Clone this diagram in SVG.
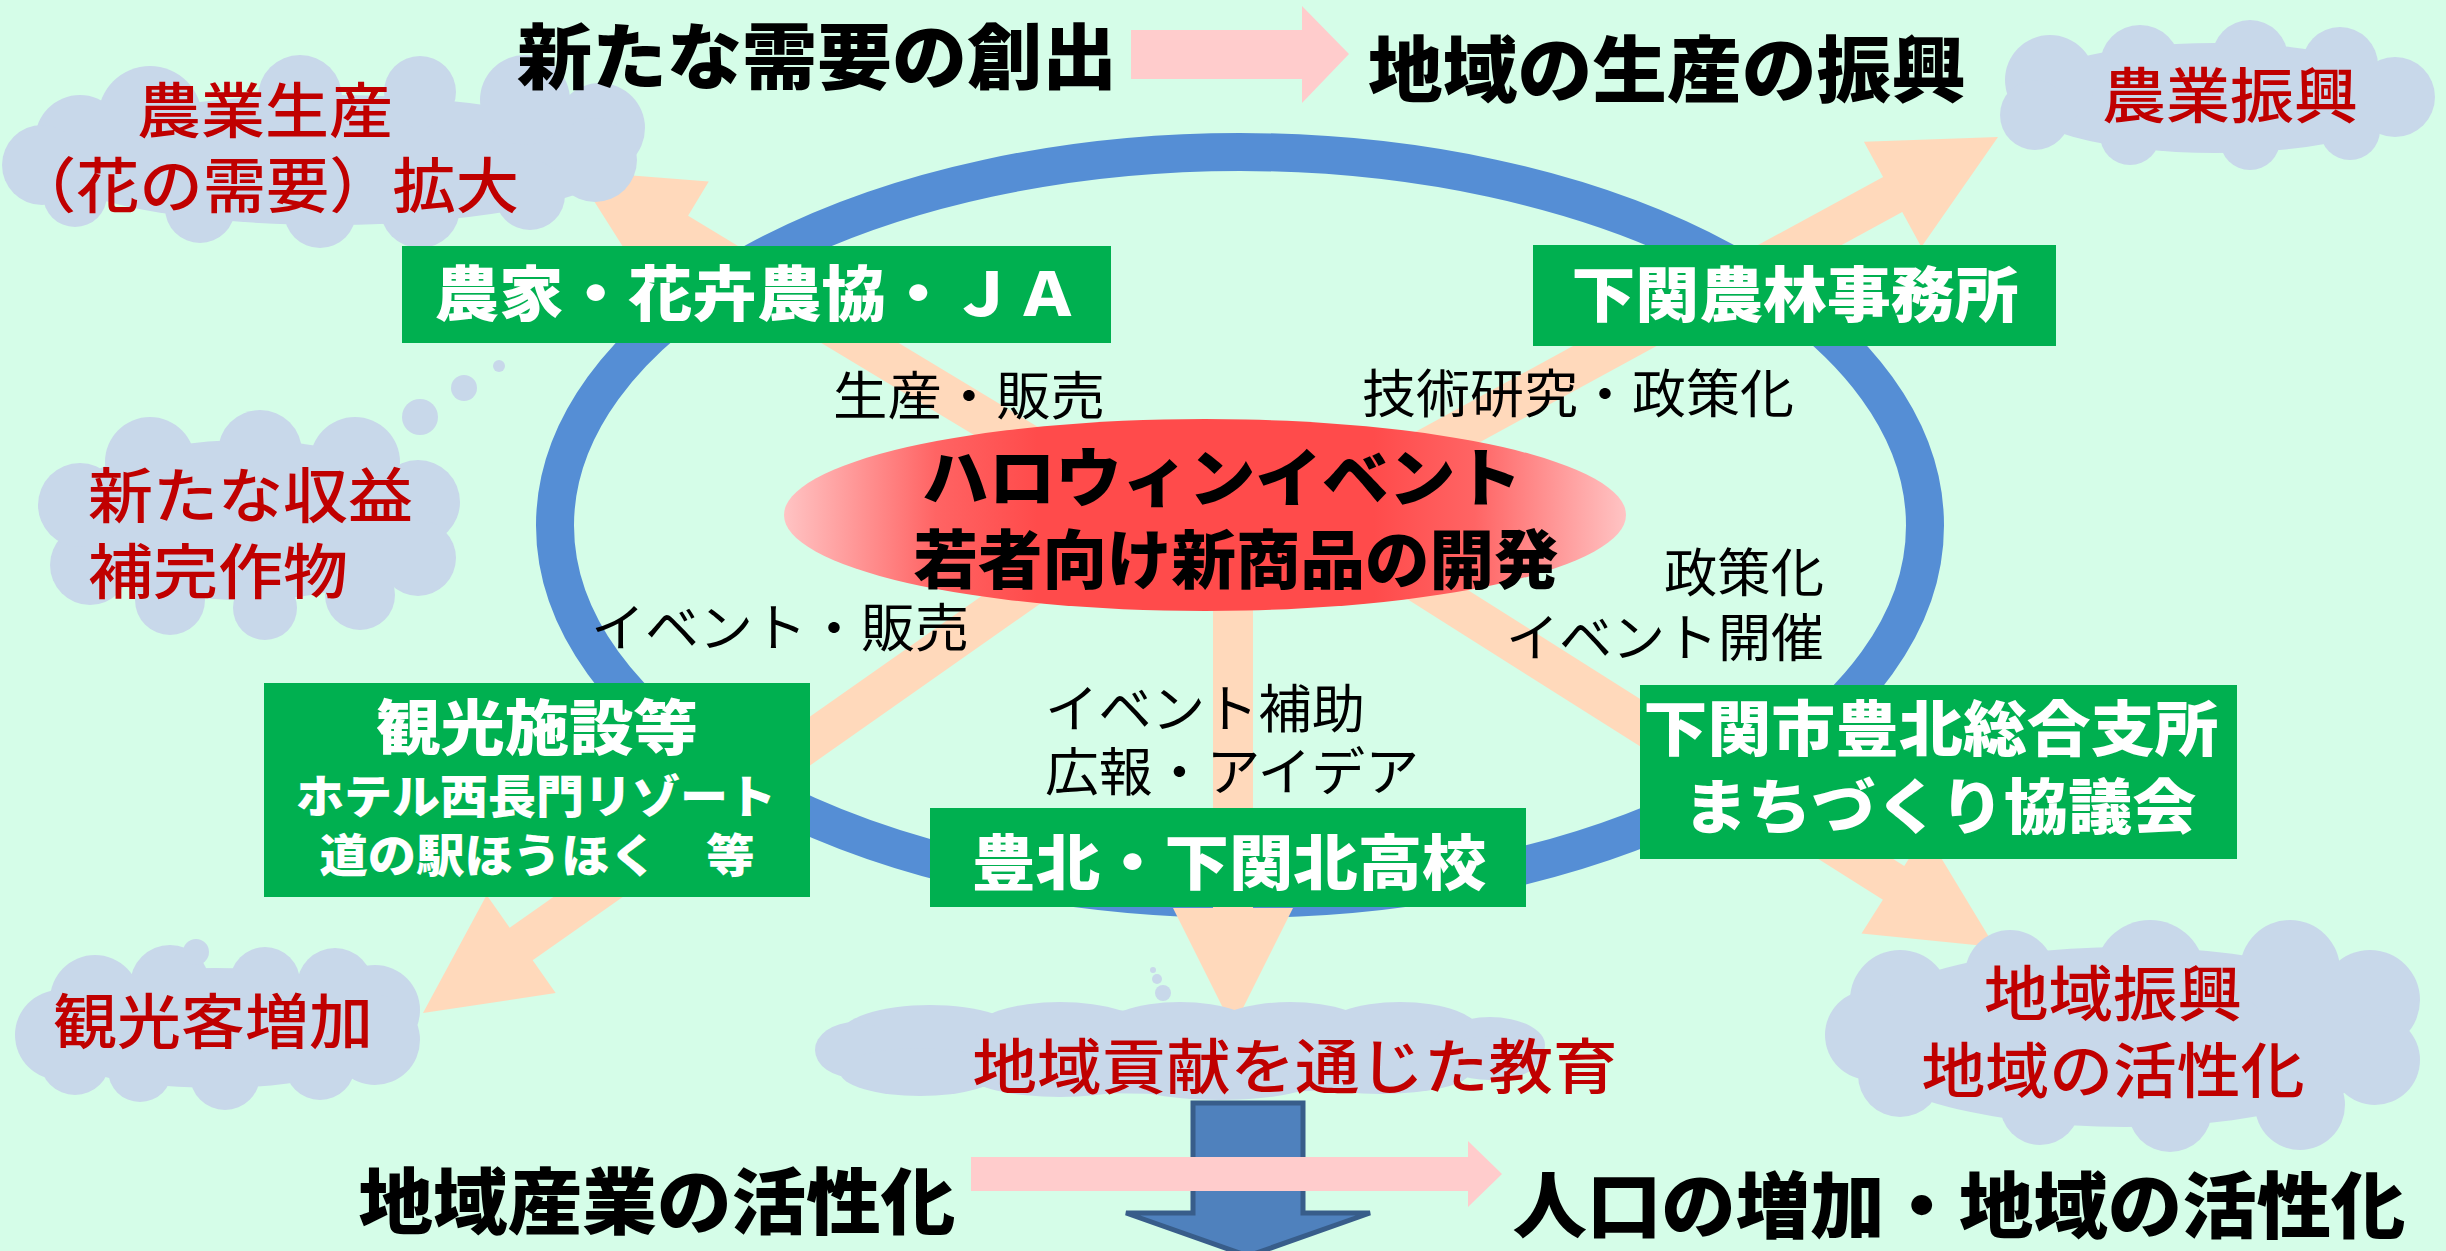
<svg xmlns="http://www.w3.org/2000/svg" width="2446" height="1251" viewBox="0 0 2446 1251">
<defs>
<style>
.t{font-family:"Noto Sans CJK JP","Noto Sans CJK SC",sans-serif;dominant-baseline:central;text-anchor:middle}
.hd{font-weight:900;fill:#000;font-size:72px}
.bx{font-weight:900;fill:#fff;font-size:60px}
.bs{font-weight:900;fill:#fff;font-size:46px}
.lb{font-weight:400;fill:#000;font-size:52px}
.rd{font-weight:500;fill:#C00000;font-size:60px}
.box{fill:#00B050}
.cl{fill:#C8D8EA}
.ar{fill:#FFD9BB}
.pk{fill:#FFCCCC}
</style>
<linearGradient id="rg" x1="0" y1="0" x2="1" y2="0">
<stop offset="0" stop-color="#FFC4C4"/>
<stop offset="0.18" stop-color="#FF6464"/>
<stop offset="0.3" stop-color="#FF4B4B"/>
<stop offset="0.7" stop-color="#FF4B4B"/>
<stop offset="0.82" stop-color="#FF6464"/>
<stop offset="1" stop-color="#FFC4C4"/>
</linearGradient>
</defs>
<rect width="2446" height="1251" fill="#D5FDE8"/>

<g id="ring">
<ellipse cx="1240" cy="525.5" rx="685" ry="373.5" fill="none" stroke="#558ED5" stroke-width="38"/>
</g>

<g id="connectors">
<polygon class="ar" points="0,0 -120,-60 -120,-20 -740,-20 -740,20 -120,20 -120,60" transform="translate(575,171) rotate(211.1)"/>
<polygon class="ar" points="0,0 -120,-60 -120,-20 -870,-20 -870,20 -120,20 -120,60" transform="translate(1998,137) rotate(-28.6)"/>
<polygon class="ar" points="0,0 -120,-60 -120,-20 -950,-20 -950,20 -120,20 -120,60" transform="translate(423,1013) rotate(144.9)"/>
<polygon class="ar" points="0,0 -120,-60 -120,-20 -900,-20 -900,20 -120,20 -120,60" transform="translate(1995,947) rotate(32.3)"/>
<polygon class="ar" points="0,0 -120,-60 -120,-20 -520,-20 -520,20 -120,20 -120,60" transform="translate(1233,1028) rotate(90)"/>
<path class="pk" d="M1131,30 H1302 V6 L1349,54 L1302,103 V79 H1131 Z"/>
<path d="M1193,1103 H1303 V1213 H1370 L1248,1256 L1126,1213 H1193 Z" fill="#4F81BD" stroke="#385D8A" stroke-width="5" stroke-linejoin="miter"/>
<path class="pk" d="M971,1157 H1468 V1141 L1502,1174 L1468,1207 V1191 H971 Z"/>
</g>

<g id="cloud-nogyo-seisan">
<g class="cl">
<ellipse cx="330" cy="160" rx="290" ry="65"/>
<circle cx="150" cy="118" r="52"/>
<circle cx="80" cy="140" r="45"/>
<circle cx="42" cy="165" r="40"/>
<circle cx="75" cy="195" r="32"/>
<circle cx="300" cy="97" r="42"/>
<circle cx="420" cy="92" r="36"/>
<circle cx="525" cy="100" r="45"/>
<circle cx="600" cy="128" r="45"/>
<circle cx="595" cy="160" r="42"/>
<circle cx="530" cy="195" r="35"/>
<circle cx="420" cy="208" r="40"/>
<circle cx="320" cy="212" r="36"/>
<circle cx="200" cy="208" r="35"/>
</g>
<text class="t rd" x="265" y="106" textLength="256" lengthAdjust="spacingAndGlyphs">農業生産</text>
<text class="t rd" x="266" y="181" textLength="506" lengthAdjust="spacingAndGlyphs">（花の需要）拡大</text>
</g>

<g id="cloud-nogyo-shinko">
<g class="cl">
<ellipse cx="2215" cy="98" rx="200" ry="55"/>
<circle cx="2050" cy="80" r="45"/>
<circle cx="2035" cy="115" r="35"/>
<circle cx="2140" cy="65" r="40"/>
<circle cx="2250" cy="58" r="38"/>
<circle cx="2340" cy="65" r="38"/>
<circle cx="2395" cy="97" r="40"/>
<circle cx="2350" cy="130" r="30"/>
<circle cx="2250" cy="140" r="30"/>
<circle cx="2130" cy="135" r="30"/>
</g>
<text class="t rd" x="2230" y="91" textLength="256" lengthAdjust="spacingAndGlyphs">農業振興</text>
</g>

<g id="cloud-shueki">
<g class="cl">
<ellipse cx="245" cy="520" rx="190" ry="80"/>
<circle cx="150" cy="462" r="45"/>
<circle cx="260" cy="452" r="42"/>
<circle cx="355" cy="462" r="45"/>
<circle cx="418" cy="502" r="42"/>
<circle cx="418" cy="558" r="38"/>
<circle cx="360" cy="595" r="35"/>
<circle cx="265" cy="608" r="32"/>
<circle cx="170" cy="600" r="35"/>
<circle cx="90" cy="565" r="40"/>
<circle cx="80" cy="505" r="42"/>
<circle cx="420" cy="417" r="18"/>
<circle cx="464" cy="388" r="13"/>
<circle cx="499" cy="366" r="6"/>
</g>
<text class="t rd" x="88" y="491" textLength="325" lengthAdjust="spacingAndGlyphs" style="text-anchor:start">新たな収益</text>
<text class="t rd" x="88" y="567" textLength="260" lengthAdjust="spacingAndGlyphs" style="text-anchor:start">補完作物</text>
</g>

<g id="cloud-kankokyaku">
<g class="cl">
<ellipse cx="215" cy="1028" rx="190" ry="60"/>
<circle cx="95" cy="1000" r="45"/>
<circle cx="60" cy="1035" r="45"/>
<circle cx="75" cy="1060" r="35"/>
<circle cx="170" cy="985" r="40"/>
<circle cx="265" cy="982" r="35"/>
<circle cx="335" cy="986" r="38"/>
<circle cx="375" cy="1010" r="45"/>
<circle cx="375" cy="1040" r="45"/>
<circle cx="320" cy="1065" r="35"/>
<circle cx="225" cy="1075" r="35"/>
<circle cx="140" cy="1070" r="32"/>
<circle cx="196" cy="952" r="13"/>
</g>
<text class="t rd" x="213" y="1017" textLength="320" lengthAdjust="spacingAndGlyphs">観光客増加</text>
</g>

<g id="cloud-kyoiku">
<g class="cl">
<ellipse cx="1180" cy="1052" rx="350" ry="42"/>
<ellipse cx="930" cy="1035" rx="90" ry="30"/>
<ellipse cx="1060" cy="1030" rx="85" ry="28"/>
<ellipse cx="1180" cy="1032" rx="80" ry="30"/>
<ellipse cx="1290" cy="1030" rx="80" ry="28"/>
<ellipse cx="1400" cy="1032" rx="80" ry="30"/>
<ellipse cx="1490" cy="1045" rx="55" ry="28"/>
<ellipse cx="855" cy="1050" rx="40" ry="28"/>
<ellipse cx="920" cy="1072" rx="80" ry="24"/>
<ellipse cx="1060" cy="1075" rx="90" ry="22"/>
<ellipse cx="1220" cy="1078" rx="100" ry="22"/>
<ellipse cx="1380" cy="1072" rx="90" ry="22"/>
<ellipse cx="1490" cy="1058" rx="50" ry="22"/>
<circle cx="1163" cy="993" r="8"/>
<circle cx="1157" cy="979" r="5"/>
<circle cx="1153" cy="970" r="3"/>
</g>
<text class="t rd" x="1295" y="1062" textLength="645" lengthAdjust="spacingAndGlyphs">地域貢献を通じた教育</text>
</g>

<g id="cloud-chiiki">
<g class="cl">
<ellipse cx="2125" cy="1037" rx="280" ry="90"/>
<circle cx="1900" cy="1000" r="50"/>
<circle cx="2010" cy="975" r="45"/>
<circle cx="2150" cy="975" r="55"/>
<circle cx="2290" cy="970" r="50"/>
<circle cx="2370" cy="1000" r="50"/>
<circle cx="2375" cy="1060" r="45"/>
<circle cx="2300" cy="1105" r="45"/>
<circle cx="2170" cy="1110" r="42"/>
<circle cx="2040" cy="1105" r="40"/>
<circle cx="1900" cy="1075" r="42"/>
<circle cx="1870" cy="1035" r="45"/>
</g>
<text class="t rd" x="2113" y="989" textLength="258" lengthAdjust="spacingAndGlyphs">地域振興</text>
<text class="t rd" x="2113" y="1066" textLength="383" lengthAdjust="spacingAndGlyphs">地域の活性化</text>
</g>

<g id="halloween">
<ellipse cx="1205" cy="515" rx="421" ry="96" fill="url(#rg)"/>
<text class="t hd" x="1222" y="473" style="font-size:64px" textLength="600" lengthAdjust="spacingAndGlyphs">ハロウィンイベント</text>
<text class="t hd" x="1236" y="555" style="font-size:64px" textLength="645" lengthAdjust="spacingAndGlyphs">若者向け新商品の開発</text>
</g>

<g id="node-noka">
<rect class="box" x="402" y="246" width="709" height="97"/>
<text class="t bx" x="757" y="289" textLength="645" lengthAdjust="spacingAndGlyphs">農家・花卉農協・ＪＡ</text>
</g>

<g id="node-norin">
<rect class="box" x="1533" y="245" width="523" height="101"/>
<text class="t bx" x="1795" y="290" textLength="447" lengthAdjust="spacingAndGlyphs">下関農林事務所</text>
</g>

<g id="node-kanko">
<rect class="box" x="264" y="683" width="546" height="214"/>
<text class="t bx" x="537" y="723" textLength="322" lengthAdjust="spacingAndGlyphs">観光施設等</text>
<text class="t bs" x="536" y="793" textLength="480" lengthAdjust="spacingAndGlyphs">ホテル西長門リゾート</text>
<text class="t bs" x="537" y="852" textLength="435" lengthAdjust="spacingAndGlyphs">道の駅ほうほく　等</text>
</g>

<g id="node-koko">
<rect class="box" x="930" y="808" width="596" height="99"/>
<text class="t bx" x="1229" y="858" textLength="515" lengthAdjust="spacingAndGlyphs">豊北・下関北高校</text>
</g>

<g id="node-shisho">
<rect class="box" x="1640" y="685" width="597" height="174"/>
<text class="t bx" x="1931" y="724" textLength="575" lengthAdjust="spacingAndGlyphs">下関市豊北総合支所</text>
<text class="t bx" x="1940" y="802" textLength="513" lengthAdjust="spacingAndGlyphs">まちづくり協議会</text>
</g>

<g id="labels">
<text class="t lb" x="969" y="392" textLength="272" lengthAdjust="spacingAndGlyphs">生産・販売</text>
<text class="t lb" x="1578" y="390" textLength="432" lengthAdjust="spacingAndGlyphs">技術研究・政策化</text>
<text class="t lb" x="780" y="624" textLength="378" lengthAdjust="spacingAndGlyphs">イベント・販売</text>
<text class="t lb" x="1824" y="569" textLength="160" lengthAdjust="spacingAndGlyphs" style="text-anchor:end">政策化</text>
<text class="t lb" x="1824" y="634" textLength="318" lengthAdjust="spacingAndGlyphs" style="text-anchor:end">イベント開催</text>
<text class="t lb" x="1045" y="705" textLength="320" lengthAdjust="spacingAndGlyphs" style="text-anchor:start">イベント補助</text>
<text class="t lb" x="1045" y="768" textLength="374" lengthAdjust="spacingAndGlyphs" style="text-anchor:start">広報・アイデア</text>
</g>

<g id="headlines">
<text class="t hd" x="817" y="51" textLength="600" lengthAdjust="spacingAndGlyphs">新たな需要の創出</text>
<text class="t hd" x="1667" y="64" textLength="598" lengthAdjust="spacingAndGlyphs">地域の生産の振興</text>
<text class="t hd" x="657" y="1196" textLength="597" lengthAdjust="spacingAndGlyphs">地域産業の活性化</text>
<text class="t hd" x="1959" y="1200" textLength="893" lengthAdjust="spacingAndGlyphs">人口の増加・地域の活性化</text>
</g>
</svg>
